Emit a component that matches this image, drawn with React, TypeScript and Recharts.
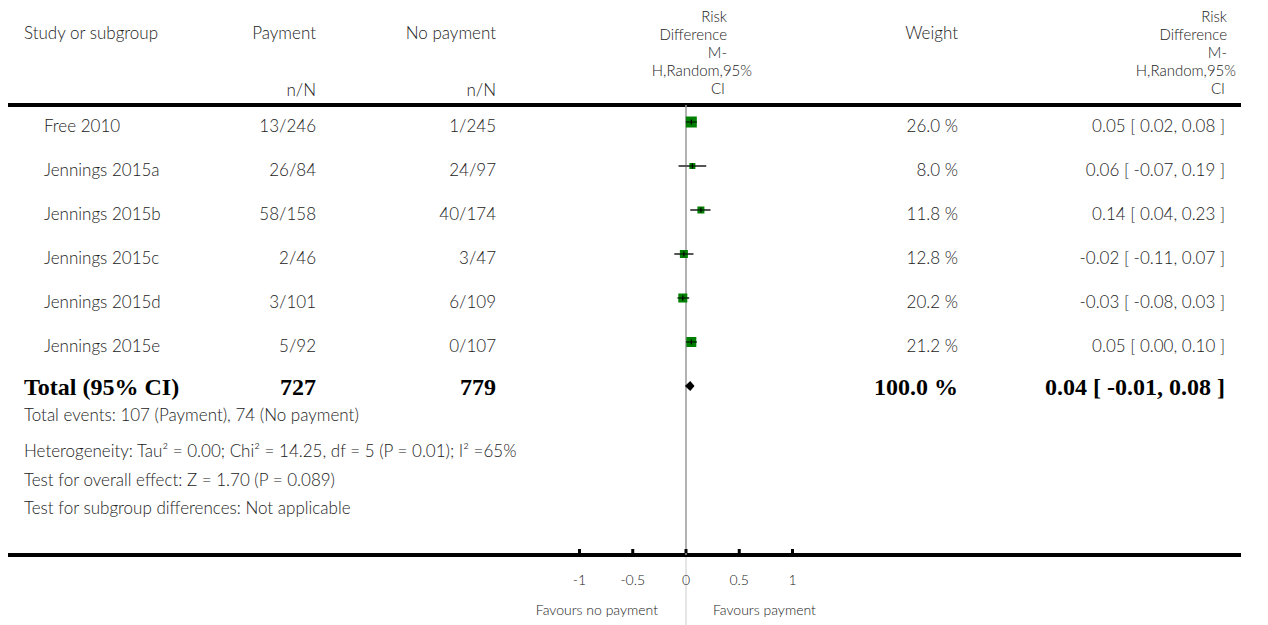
import React from 'react';
import { ComposedChart, Scatter, XAxis, YAxis, ErrorBar, ReferenceLine, Customized } from 'recharts';

// ---- data ----
const STUDIES = ['Free 2010', 'Jennings 2015a', 'Jennings 2015b', 'Jennings 2015c', 'Jennings 2015d', 'Jennings 2015e'];
const PAY_EVENTS = [13, 26, 58, 2, 3, 5];
const PAY_TOTAL = [246, 84, 158, 46, 101, 92];
const NOPAY_EVENTS = [1, 24, 40, 3, 6, 0];
const NOPAY_TOTAL = [245, 97, 174, 47, 109, 107];
const WEIGHTS = [26.0, 8.0, 11.8, 12.8, 20.2, 21.2];
const RD = [0.05, 0.06, 0.14, -0.02, -0.03, 0.05];
const CI_LO = [0.02, -0.07, 0.04, -0.11, -0.08, 0.0];
const CI_HI = [0.08, 0.19, 0.23, 0.07, 0.03, 0.1];
const TOTAL_RD = 0.04;
const TOTAL_LO = -0.01;
const TOTAL_HI = 0.08;
const TOTAL_PAY = 727;
const TOTAL_NOPAY = 779;
const TOTAL_WEIGHT = 100.0;
const X_TICKS = [-1, -0.5, 0, 0.5, 1];
const RD_HEADER = ['Risk', 'Difference', 'M-', 'H,Random,95%', 'CI'];
const FOOTER = [
  'Total events: 107 (Payment), 74 (No payment)',
  'Heterogeneity: Tau² = 0.00; Chi² = 14.25, df = 5 (P = 0.01); I² =65%',
  'Test for overall effect: Z = 1.70 (P = 0.089)',
  'Test for subgroup differences: Not applicable',
];

// ---- layout ----
const W = 1268;
const H = 625;
const PLOT_LEFT = 579.5;
const PLOT_RIGHT = 792.5;
const PLOT_TOP = 105;
const PLOT_BOTTOM = 555;
const ROW_H = 44;
const FIRST_ROW_Y = 122;
const X_MIN = -1;
const X_MAX = 1;
const PX_PER_UNIT = (PLOT_RIGHT - PLOT_LEFT) / (X_MAX - X_MIN);
const Y_DOMAIN: [number, number] = [
  -(FIRST_ROW_Y - PLOT_TOP) / ROW_H,
  (PLOT_BOTTOM - FIRST_ROW_Y) / ROW_H,
];
const ZERO_X = PLOT_LEFT + (0 - X_MIN) * PX_PER_UNIT;

const SANS = 'Lato, "Open Sans", sans-serif';
const SERIF = '"Liberation Serif", "DejaVu Serif", serif';
const TXT = '#222';

const studyData = STUDIES.map((name, i) => ({
  name,
  row: i,
  rd: RD[i],
  lo: CI_LO[i],
  hi: CI_HI[i],
  weight: WEIGHTS[i],
  err: [RD[i] - CI_LO[i], CI_HI[i] - RD[i]],
}));

const totalData = [{ row: STUDIES.length, rd: TOTAL_RD, lo: TOTAL_LO, hi: TOTAL_HI }];

const fmt2 = (v: number) => v.toFixed(2);

const SquareShape = (props: any) => {
  const { cx, cy, payload } = props;
  if (cx == null || cy == null) return null;
  const s = Math.round(2.1 * Math.sqrt(payload.weight));
  return (
    <g>
      <rect x={cx - s / 2} y={cy - s / 2} width={s} height={s} fill="#008000" />
      <line x1={cx - s / 2} x2={cx + s / 2} y1={cy} y2={cy} stroke="#000" strokeWidth={1.2} />
      <line x1={cx} x2={cx} y1={cy - 2.5} y2={cy + 2.5} stroke="#000" strokeWidth={1.2} />
    </g>
  );
};

const DiamondShape = (props: any) => {
  const { cx, cy, payload } = props;
  if (cx == null || cy == null) return null;
  const l = cx - (payload.rd - payload.lo) * PX_PER_UNIT;
  const r = cx + (payload.hi - payload.rd) * PX_PER_UNIT;
  const h = 5;
  return <polygon points={`${l},${cy} ${cx},${cy - h} ${r},${cy} ${cx},${cy + h}`} fill="#000" />;
};

const AxisTick = (props: any) => {
  const { x, payload } = props;
  return (
    <g>
      <rect x={x - 1.5} y={PLOT_BOTTOM - 6} width={3} height={4} fill="#000" />
      <text x={x} y={585} textAnchor="middle" fontFamily={SANS} fontWeight={300} fontSize={14} fill={TXT}>
        {payload.value}
      </text>
    </g>
  );
};

const Table = () => {
  const rowBase = (i: number) => FIRST_ROW_Y + ROW_H * i + 10;
  const hdr = { fontFamily: SANS, fontSize: 17, fontWeight: 300, fill: TXT } as const;
  const stack = { fontFamily: SANS, fontSize: 15, fontWeight: 300, fill: TXT } as const;
  const totalY = FIRST_ROW_Y + ROW_H * STUDIES.length + 9;
  const bold = { fontFamily: SERIF, fontSize: 24, fontWeight: 700, fill: '#000' } as const;
  const footerY = [421, 457, 486, 514];
  const stackY = [22, 40, 58, 76, 94];
  return (
    <g>
      {/* rules */}
      <line x1={8} x2={1241} y1={PLOT_TOP} y2={PLOT_TOP} stroke="#000" strokeWidth={4} />
      <line x1={8} x2={1241} y1={PLOT_BOTTOM} y2={PLOT_BOTTOM} stroke="#000" strokeWidth={4} />
      <line x1={ZERO_X} x2={ZERO_X} y1={PLOT_BOTTOM + 2} y2={H} stroke="#ddd" strokeWidth={1.5} />

      {/* header */}
      <text x={24} y={39} {...hdr}>Study or subgroup</text>
      <text x={316} y={39} textAnchor="end" {...hdr}>Payment</text>
      <text x={496} y={39} textAnchor="end" {...hdr}>No payment</text>
      <text x={316} y={96} textAnchor="end" {...hdr}>n/N</text>
      <text x={496} y={96} textAnchor="end" {...hdr}>n/N</text>
      <text x={958} y={39} textAnchor="end" {...hdr}>Weight</text>
      {[727, 1227].map((rx, k) => (
        <g key={k}>
          {RD_HEADER.map((t, j) => (
            <text
              key={t}
              x={j === 3 ? (k === 0 ? 752 : 1236) : j === 4 ? rx - 2 : rx}
              y={stackY[j]}
              textAnchor="end"
              {...stack}
            >
              {t}
            </text>
          ))}
        </g>
      ))}

      {/* study rows */}
      {STUDIES.map((name, i) => (
        <g key={name}>
          <text x={44} y={rowBase(i)} {...hdr}>{name}</text>
          <text x={316} y={rowBase(i)} textAnchor="end" {...hdr}>{`${PAY_EVENTS[i]}/${PAY_TOTAL[i]}`}</text>
          <text x={496} y={rowBase(i)} textAnchor="end" {...hdr}>{`${NOPAY_EVENTS[i]}/${NOPAY_TOTAL[i]}`}</text>
          <text x={958} y={rowBase(i)} textAnchor="end" {...hdr}>{`${WEIGHTS[i].toFixed(1)} %`}</text>
          <text x={1225} y={rowBase(i)} textAnchor="end" {...hdr}>{`${fmt2(RD[i])} [ ${fmt2(CI_LO[i])}, ${fmt2(CI_HI[i])} ]`}</text>
        </g>
      ))}

      {/* total row */}
      <text x={24} y={totalY} {...bold}>Total (95% CI)</text>
      <text x={316} y={totalY} textAnchor="end" {...bold}>{TOTAL_PAY}</text>
      <text x={496} y={totalY} textAnchor="end" {...bold}>{TOTAL_NOPAY}</text>
      <text x={958} y={totalY} textAnchor="end" {...bold}>{`${TOTAL_WEIGHT.toFixed(1)} %`}</text>
      <text x={1225} y={totalY} textAnchor="end" {...bold}>{`${fmt2(TOTAL_RD)} [ ${fmt2(TOTAL_LO)}, ${fmt2(TOTAL_HI)} ]`}</text>

      {/* footer */}
      {FOOTER.map((t, i) => (
        <text key={i} x={24} y={footerY[i]} {...hdr}>{t}</text>
      ))}

      {/* favours */}
      <text x={658} y={615} textAnchor="end" fontFamily={SANS} fontWeight={300} fontSize={14} fill={TXT}>Favours no payment</text>
      <text x={713} y={615} fontFamily={SANS} fontWeight={300} fontSize={14} fill={TXT}>Favours payment</text>
    </g>
  );
};

export default function App() {
  return (
    <div style={{ width: W, height: H, position: 'absolute', left: 0, top: 0, background: '#fff' }}>
      <ComposedChart
        width={W}
        height={H}
        margin={{ top: PLOT_TOP, right: W - PLOT_RIGHT, bottom: 0, left: PLOT_LEFT }}
      >
        <XAxis
          dataKey="rd"
          type="number"
          domain={[X_MIN, X_MAX]}
          ticks={X_TICKS}
          allowDataOverflow
          axisLine={false}
          tickLine={false}
          height={H - PLOT_BOTTOM}
          tick={<AxisTick />}
          interval={0}
        />
        <YAxis dataKey="row" type="number" domain={Y_DOMAIN} reversed hide allowDataOverflow />
        <ReferenceLine x={0} stroke="#999" strokeWidth={1.5} />
        <Customized component={Table} />
        <Scatter data={studyData} dataKey="row" shape={<SquareShape />} isAnimationActive={false}>
          <ErrorBar dataKey="err" direction="x" width={0} stroke="#555" strokeWidth={2} />
        </Scatter>
        <Scatter data={totalData} dataKey="row" shape={<DiamondShape />} isAnimationActive={false} />
      </ComposedChart>
    </div>
  );
}
